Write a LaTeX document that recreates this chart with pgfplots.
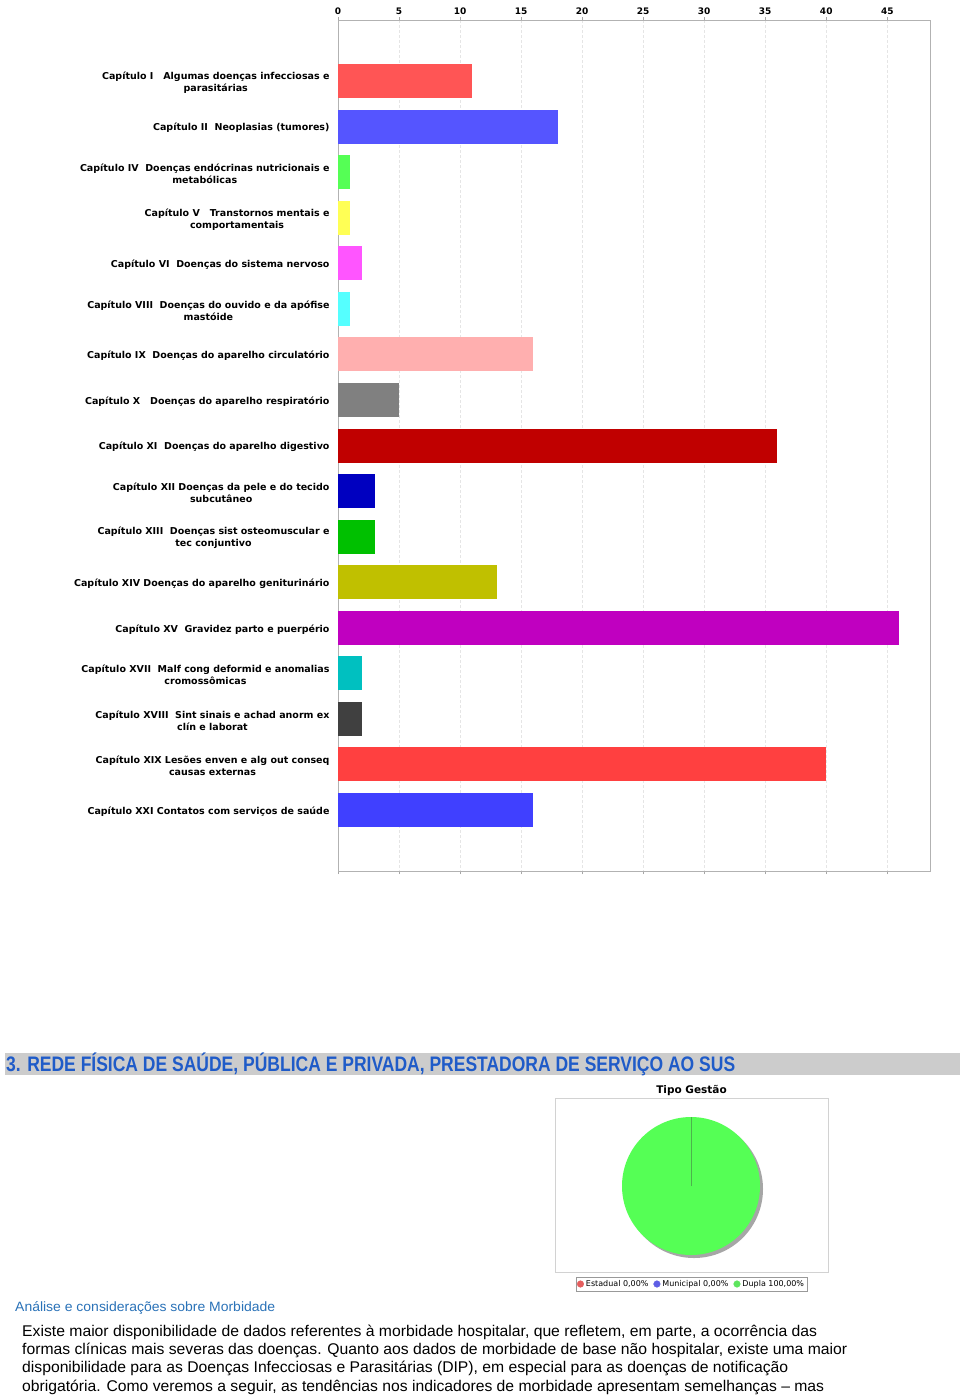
\documentclass[border=0pt]{standalone}
\usepackage{fontspec}
\setmainfont{Liberation Sans}
\newfontfamily\tah{DejaVu Sans}
\usepackage{graphicx}
\usepackage{pgfplots}
\pgfplotsset{compat=1.18}
\definecolor{cI}{HTML}{FF5555}
\definecolor{cII}{HTML}{5555FF}
\definecolor{cIV}{HTML}{55FF55}
\definecolor{cV}{HTML}{FFFF55}
\definecolor{cVI}{HTML}{FF55FF}
\definecolor{cVIII}{HTML}{55FFFF}
\definecolor{cIX}{HTML}{FFAFAF}
\definecolor{cX}{HTML}{808080}
\definecolor{cXI}{HTML}{C00000}
\definecolor{cXII}{HTML}{0000C0}
\definecolor{cXIII}{HTML}{00C000}
\definecolor{cXIV}{HTML}{C0C000}
\definecolor{cXV}{HTML}{C000C0}
\definecolor{cXVII}{HTML}{00C0C0}
\definecolor{cXVIII}{HTML}{404040}
\definecolor{cXIX}{HTML}{FF4040}
\definecolor{cXXI}{HTML}{4040FF}
\definecolor{hdrblue}{HTML}{1F5BC8}
\definecolor{subblue}{HTML}{2A72B8}
\definecolor{band}{HTML}{CCCCCC}
\begin{document}
\begin{tikzpicture}[x=1pt,y=1pt]
\useasboundingbox (0,0) rectangle (960,-1399);
\fill[white] (0,0) rectangle (960,-1399);

\begin{axis}[
  at={(338pt,-20pt)}, anchor=north west,
  scale only axis, width=592pt, height=851pt,
  xbar, bar width=34pt,
  xmin=0, xmax=48.5, ymin=-1.34, ymax=17.34, y dir=reverse,
  xtick={0,5,...,45}, xticklabel pos=upper,
  /pgf/number format/assume math mode=true,
  x tick label style={font=\tah\bfseries\fontsize{9}{9}\selectfont, yshift=-1pt},
  ytick={0,...,16},
  yticklabels={
    {Capítulo I\ \ \ Algumas doenças infecciosas e\\parasitárias},
    {Capítulo II\ \ Neoplasias (tumores)},
    {Capítulo IV\ \ Doenças endócrinas nutricionais e\\metabólicas},
    {Capítulo V\ \ \ Transtornos mentais e\\comportamentais},
    {Capítulo VI\ \ Doenças do sistema nervoso},
    {Capítulo VIII\ \ Doenças do ouvido e da apófise\\mastóide},
    {Capítulo IX\ \ Doenças do aparelho circulatório},
    {Capítulo X\ \ \ Doenças do aparelho respiratório},
    {Capítulo XI\ \ Doenças do aparelho digestivo},
    {Capítulo XII Doenças da pele e do tecido\\subcutâneo},
    {Capítulo XIII\ \ Doenças sist osteomuscular e\\tec conjuntivo},
    {Capítulo XIV Doenças do aparelho geniturinário},
    {Capítulo XV\ \ Gravidez parto e puerpério},
    {Capítulo XVII\ \ Malf cong deformid e anomalias\\cromossômicas},
    {Capítulo XVIII\ \ Sint sinais e achad anorm ex\\clín e laborat},
    {Capítulo XIX Lesões enven e alg out conseq\\causas externas},
    {Capítulo XXI Contatos com serviços de saúde}},
  y tick label style={font=\tah\bfseries\fontsize{9.5}{12}\selectfont, align=center, xshift=-2pt, yshift=-1.5pt},
  ytick style={draw=none},
  xtick style={gray!70, thin}, tick align=outside, major tick length=3pt,
  xmajorgrids, grid style={densely dashed, gray!20, thin},
  axis line style={gray!60},
  every axis plot/.append style={draw=none, bar shift=0pt},
]
\addplot[fill=cI] coordinates {(11,0)};
\addplot[fill=cII] coordinates {(18,1)};
\addplot[fill=cIV] coordinates {(1,2)};
\addplot[fill=cV] coordinates {(1,3)};
\addplot[fill=cVI] coordinates {(2,4)};
\addplot[fill=cVIII] coordinates {(1,5)};
\addplot[fill=cIX] coordinates {(16,6)};
\addplot[fill=cX] coordinates {(5,7)};
\addplot[fill=cXI] coordinates {(36,8)};
\addplot[fill=cXII] coordinates {(3,9)};
\addplot[fill=cXIII] coordinates {(3,10)};
\addplot[fill=cXIV] coordinates {(13,11)};
\addplot[fill=cXV] coordinates {(46,12)};
\addplot[fill=cXVII] coordinates {(2,13)};
\addplot[fill=cXVIII] coordinates {(2,14)};
\addplot[fill=cXIX] coordinates {(40,15)};
\addplot[fill=cXXI] coordinates {(16,16)};
\end{axis}

% section band
\fill[band] (5,-1053) rectangle (960,-1075);
\node[anchor=west, inner sep=0pt, text=hdrblue] at (6,-1064)
  {\resizebox{729pt}{\height}{\fontsize{21}{21}\selectfont\bfseries 3. REDE FÍSICA DE SAÚDE, PÚBLICA E PRIVADA, PRESTADORA DE SERVIÇO AO SUS}};

% pie chart
\begin{axis}[
  at={(555pt,-1098pt)}, anchor=north west,
  scale only axis, width=273pt, height=174pt,
  xmin=0, xmax=273, ymin=0, ymax=174,
  ticks=none, axis line style={gray!35},
  title={Tipo Gestão},
  title style={font=\tah\bfseries\fontsize{10.5}{11}\selectfont, at={(0.5,1)}, anchor=south, inner sep=1.5pt, yshift=-5pt},
  legend style={at={(0.5,0)}, anchor=north, yshift=-5pt, legend columns=3,
    font=\tah\fontsize{8}{9}\selectfont, draw=gray!80, inner sep=1pt,
    /tikz/every even column/.append style={column sep=3pt}},
  legend cell align=left,
  legend image code/.code={\fill[#1] (0.13cm,0) circle (3.3pt);},
]
\addlegendimage{cI!80!gray}
\addlegendentry{Estadual 0,00\%}
\addlegendimage{cII!80!gray}
\addlegendentry{Municipal 0,00\%}
\addlegendimage{cIV!80!gray}
\addlegendentry{Dupla 100,00\%}
\fill[gray!70] (axis cs:139,83) circle[radius=69];
\fill[cIV] (axis cs:136,86) circle[radius=69];
\draw[green!40!gray, thin] (axis cs:136,86) -- (axis cs:136,155);
\end{axis}

% text
\node[anchor=west, inner sep=0pt, text=subblue] at (15,-1308)
  {\resizebox{260pt}{\height}{\fontsize{13.5}{13.5}\selectfont Análise e considerações sobre Morbidade}};
\node[anchor=west, inner sep=0pt] at (22,-1332)
  {\resizebox{795pt}{\height}{\fontsize{15.5}{15.5}\selectfont Existe maior disponibilidade de dados referentes à morbidade hospitalar, que refletem, em parte, a ocorrência das}};
\node[anchor=west, inner sep=0pt] at (22,-1350)
  {\resizebox{825pt}{\height}{\fontsize{15.5}{15.5}\selectfont formas clínicas mais severas das doenças. Quanto aos dados de morbidade de base não hospitalar, existe uma maior}};
\node[anchor=west, inner sep=0pt] at (22,-1368)
  {\resizebox{766pt}{\height}{\fontsize{15.5}{15.5}\selectfont disponibilidade para as Doenças Infecciosas e Parasitárias (DIP), em especial para as doenças de notificação}};
\node[anchor=west, inner sep=0pt] at (22,-1387)
  {\resizebox{802pt}{\height}{\fontsize{15.5}{15.5}\selectfont obrigatória. Como veremos a seguir, as tendências nos indicadores de morbidade apresentam semelhanças – mas}};
\end{tikzpicture}
\end{document}
